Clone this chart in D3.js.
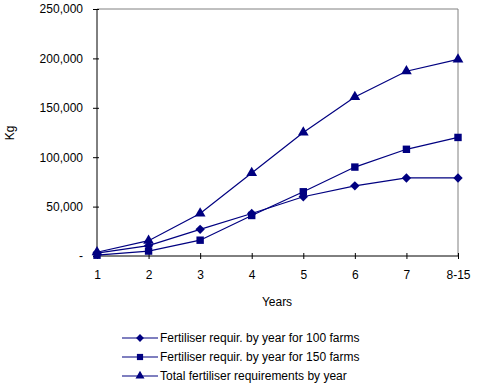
<!DOCTYPE html>
<html>
<head>
<meta charset="utf-8">
<script src="https://cdn.jsdelivr.net/npm/d3@7"></script>
<style>
  body { margin: 0; background: #fff; }
  svg { display: block; font-family: Arial, "Liberation Sans", sans-serif; }
</style>
</head>
<body>
<svg id="chart" width="479" height="385"></svg>
<script>
const years = ['1', '2', '3', '4', '5', '6', '7', '8-15'];
const farms100 = [3000, 10500, 27000, 43000, 60000, 71000, 79000, 79000];
const farms150 = [800, 5000, 16000, 41000, 65000, 90000, 108000, 120000];
const totalReq = [3800, 15500, 43000, 84000, 125000, 161000, 187000, 199000];
const yTicks = [0, 50000, 100000, 150000, 200000, 250000];
const seriesNames = [
  'Fertiliser requir. by year for 100 farms',
  'Fertiliser requir. by year for 150 farms',
  'Total fertiliser requirements by year'
];

const navy = '#000080';
const margin = { left: 97, right: 21, top: 9, bottom: 129 };
const width = 479, height = 385;

const svg = d3.select('#chart');

const x = d3.scalePoint()
  .domain(years)
  .range([margin.left, width - margin.right]);

const y = d3.scaleLinear()
  .domain([0, 250000])
  .range([height - margin.bottom, margin.top]);

// frame top/right
svg.append('path')
  .attr('d', `M${margin.left},${margin.top}H${width - margin.right}V${height - margin.bottom}`)
  .attr('fill', 'none')
  .attr('stroke', '#808080')
  .attr('stroke-width', 1);

const fmt = d3.format(',');
const yAxis = svg.append('g')
  .attr('transform', `translate(${margin.left},0)`)
  .call(d3.axisLeft(y).tickValues(yTicks).tickSize(4)
    .tickFormat(d => d === 0 ? '-' : fmt(d)));
yAxis.selectAll('.tick line').attr('x2', -4).attr('x1', 2);
yAxis.selectAll('text').attr('x', -14).attr('font-size', 12).attr('fill', '#000')
  .attr('font-family', 'Arial, "Liberation Sans", sans-serif');
yAxis.select('.domain').attr('d', `M0,${margin.top}V${height - margin.bottom}`);

const xAxis = svg.append('g')
  .attr('transform', `translate(0,${height - margin.bottom})`)
  .call(d3.axisBottom(x).tickSize(3));
xAxis.selectAll('.tick line').attr('y1', -3).attr('y2', 3);
xAxis.selectAll('text').attr('y', 14).attr('font-size', 12).attr('fill', '#000')
  .attr('font-family', 'Arial, "Liberation Sans", sans-serif');
xAxis.select('.domain').attr('d', `M${margin.left},0H${width - margin.right}`);

svg.selectAll('.domain, .tick line').attr('stroke', '#000');

svg.append('text')
  .attr('transform', 'translate(14,133) rotate(-90)')
  .attr('text-anchor', 'middle')
  .attr('font-size', 12)
  .text('Kg');

svg.append('text')
  .attr('x', 277)
  .attr('y', 306)
  .attr('text-anchor', 'middle')
  .attr('font-size', 12)
  .text('Years');

// diamond = square turned 45deg (excel style, wider than d3 diamond)
const series = [
  { name: seriesNames[0], values: farms100, symbol: d3.symbolSquare, size: 44, rot: 45 },
  { name: seriesNames[1], values: farms150, symbol: d3.symbolSquare, size: 55, rot: 0 },
  { name: seriesNames[2], values: totalReq, symbol: d3.symbolTriangle, size: 50, rot: 0 }
];

const line = d3.line()
  .x((d, i) => x(years[i]))
  .y(d => y(d));

series.forEach(s => {
  svg.append('path')
    .datum(s.values)
    .attr('d', line)
    .attr('fill', 'none')
    .attr('stroke', navy)
    .attr('stroke-width', 1.2);

  svg.append('g')
    .selectAll('path')
    .data(s.values)
    .join('path')
    .attr('transform', (d, i) => `translate(${x(years[i])},${y(d)}) rotate(${s.rot})`)
    .attr('d', d3.symbol(s.symbol, s.size))
    .attr('fill', navy);
});

const legend = svg.append('g').attr('transform', 'translate(122,338)');
series.forEach((s, i) => {
  const g = legend.append('g').attr('transform', `translate(0,${i * 19})`);
  g.append('line').attr('x1', 0).attr('x2', 36).attr('stroke', navy).attr('stroke-width', 1.2);
  g.append('path').attr('transform', `translate(18,0) rotate(${s.rot})`)
    .attr('d', d3.symbol(s.symbol, s.size * 0.7)).attr('fill', navy);
  g.append('text').attr('x', 38).attr('dy', '0.35em').attr('font-size', 12).text(s.name);
});
</script>
</body>
</html>
